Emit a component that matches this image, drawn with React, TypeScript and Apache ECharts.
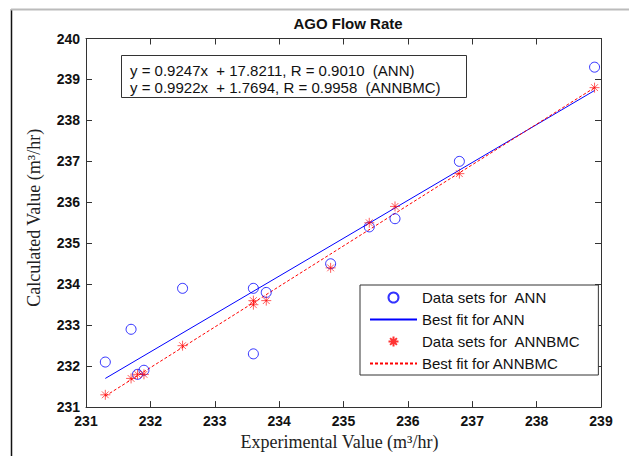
import React, { useEffect, useRef } from "react";
import * as echarts from "echarts";

const xTicks = [231, 239];
const yTicks = [231, 240];

const annX = [231.3, 231.7, 231.8, 231.9, 232.5, 233.6, 233.8, 233.6, 234.8, 235.4, 235.8, 236.8, 238.9];
const annY = [232.1, 232.9, 231.8, 231.9, 233.9, 233.9, 233.8, 232.3, 234.5, 235.4, 235.6, 237.0, 239.3];

const bmcX = [231.3, 231.7, 231.8, 231.9, 232.5, 233.6, 233.6, 233.8, 234.8, 235.4, 235.8, 236.8, 238.9];
const bmcY = [231.3, 231.7, 231.8, 231.8, 232.5, 233.6, 233.5, 233.6, 234.4, 235.5, 235.9, 236.7, 238.8];

const fitX = [231.3, 238.9];
const annFitY = [231.7, 238.73];
const bmcFitY = [231.27, 238.8];

const equations = [
  "y = 0.9247x  + 17.8211, R = 0.9010  (ANN)",
  "y = 0.9922x  + 1.7694, R = 0.9958  (ANNBMC)",
];

const seriesNames = [
  "Data sets for  ANN",
  "Best fit for ANN",
  "Data sets for  ANNBMC",
  "Best fit for ANNBMC",
];

const STAR = "path://M5,0L5,10M0,5L10,5M1.6,1.6L8.4,8.4M8.4,1.6L1.6,8.4";

const zip = (xs: number[], ys: number[]) => xs.map((x, i) => [x, ys[i]]);

export default function App() {
  const ref = useRef<HTMLDivElement>(null);
  useEffect(() => {
    if (!ref.current) return;
    const chart = echarts.init(ref.current, undefined, { renderer: "svg" });
    const axisCommon = {
      axisLine: { show: true, onZero: false, lineStyle: { color: "#333", width: 1 } },
      axisTick: { show: true, inside: true, length: 6, lineStyle: { color: "#333" } },
      splitLine: { show: false },
    };
    const tickFont = { color: "#111", fontFamily: "Liberation Sans, Arial", fontWeight: "bold", fontSize: 14 };
    const hiddenSymbol = { opacity: 0, color: "rgba(0,0,0,0)", borderColor: "rgba(0,0,0,0)", borderWidth: 0 };
    chart.setOption({
      animation: false,
      backgroundColor: "#fff",
      title: {
        text: "AGO Flow Rate",
        left: 343,
        textAlign: "center",
        top: 11,
        textStyle: { fontFamily: "Liberation Sans, Arial", fontWeight: "bold", fontSize: 15, color: "#111" },
      },
      grid: { left: 86, right: 28, top: 38.5, bottom: 42.5, containLabel: false },
      xAxis: [
        {
          type: "value",
          min: xTicks[0],
          max: xTicks[1],
          interval: 1,
          position: "bottom",
          ...axisCommon,
          axisLabel: { ...tickFont, margin: 7 },
          name: "Experimental Value (m³/hr)",
          nameLocation: "middle",
          nameGap: 23,
          nameTextStyle: { fontFamily: "Liberation Serif, Times New Roman, serif", fontSize: 18, color: "#222", padding: [0, 8, 0, 0] },
        },
        {
          type: "value",
          min: xTicks[0],
          max: xTicks[1],
          interval: 1,
          position: "top",
          ...axisCommon,
          axisLabel: { show: false },
        },
      ],
      yAxis: [
        {
          type: "value",
          min: yTicks[0],
          max: yTicks[1],
          interval: 1,
          position: "left",
          ...axisCommon,
          axisLabel: { ...tickFont, margin: 6 },
          name: "Calculated Value (m³/hr)",
          nameLocation: "middle",
          nameGap: 43,
          nameTextStyle: { fontFamily: "Liberation Serif, Times New Roman, serif", fontSize: 18, color: "#222", padding: [0, 0, 0, 10] },
        },
        {
          type: "value",
          min: yTicks[0],
          max: yTicks[1],
          interval: 1,
          position: "right",
          ...axisCommon,
          axisLabel: { show: false },
        },
      ],
      legend: {
        orient: "vertical",
        left: 360,
        top: 285,
        padding: [5, 18, 4, 9],
        itemWidth: 47,
        itemHeight: 10,
        itemGap: 7,
        backgroundColor: "#fff",
        borderColor: "#333",
        borderWidth: 1,
        borderRadius: 0,
        textStyle: { fontFamily: "Liberation Sans, Arial", fontSize: 15, color: "#111", lineHeight: 15 },
        data: [
          { name: seriesNames[0] },
          { name: seriesNames[1], itemStyle: hiddenSymbol },
          { name: seriesNames[2] },
          { name: seriesNames[3], itemStyle: hiddenSymbol },
        ],
      },
      graphic: [
        { type: "line", shape: { x1: 11.5, y1: 9, x2: 11.5, y2: 456 }, style: { stroke: "#111", lineWidth: 1.5 } },
        { type: "line", shape: { x1: 11, y1: 9.5, x2: 629, y2: 9.5 }, style: { stroke: "#bbb", lineWidth: 2 } },
        {
          type: "rect",
          shape: { x: 121.5, y: 55.5, width: 345, height: 42 },
          style: { fill: "#fff", stroke: "#333", lineWidth: 1 },
          z: 10,
        },
        {
          type: "text",
          x: 130,
          y: 70,
          z: 11,
          style: { text: equations[0], fontFamily: "Liberation Sans, Arial", fontSize: 15, fill: "#111", verticalAlign: "middle" },
        },
        {
          type: "text",
          x: 130,
          y: 87,
          z: 11,
          style: { text: equations[1], fontFamily: "Liberation Sans, Arial", fontSize: 15, fill: "#111", verticalAlign: "middle" },
        },
      ],
      series: [
        {
          name: seriesNames[0],
          type: "scatter",
          data: zip(annX, annY),
          symbol: "circle",
          symbolSize: 10,
          itemStyle: { color: "rgba(0,0,0,0)", borderColor: "#0000ff", borderWidth: 1 },
          z: 3,
        },
        {
          name: seriesNames[1],
          type: "line",
          data: zip(fitX, annFitY),
          symbol: "none",
          showSymbol: false,
          lineStyle: { color: "#0000ff", width: 1 },
          itemStyle: { color: "#0000ff" },
          z: 2,
        },
        {
          name: seriesNames[2],
          type: "scatter",
          data: zip(bmcX, bmcY),
          symbol: STAR,
          symbolSize: 10,
          itemStyle: { color: "#ff0000", borderColor: "#ff0000", borderWidth: 0.8 },
          z: 4,
        },
        {
          name: seriesNames[3],
          type: "line",
          data: zip(fitX, bmcFitY),
          symbol: "none",
          showSymbol: false,
          lineStyle: { color: "#ff0000", width: 1, type: [3, 2] },
          itemStyle: { color: "#ff0000" },
          z: 2,
        },
      ],
    });
    return () => chart.dispose();
  }, []);
  return <div ref={ref} style={{ position: "absolute", left: 0, top: 0, width: 629, height: 456 }} />;
}
